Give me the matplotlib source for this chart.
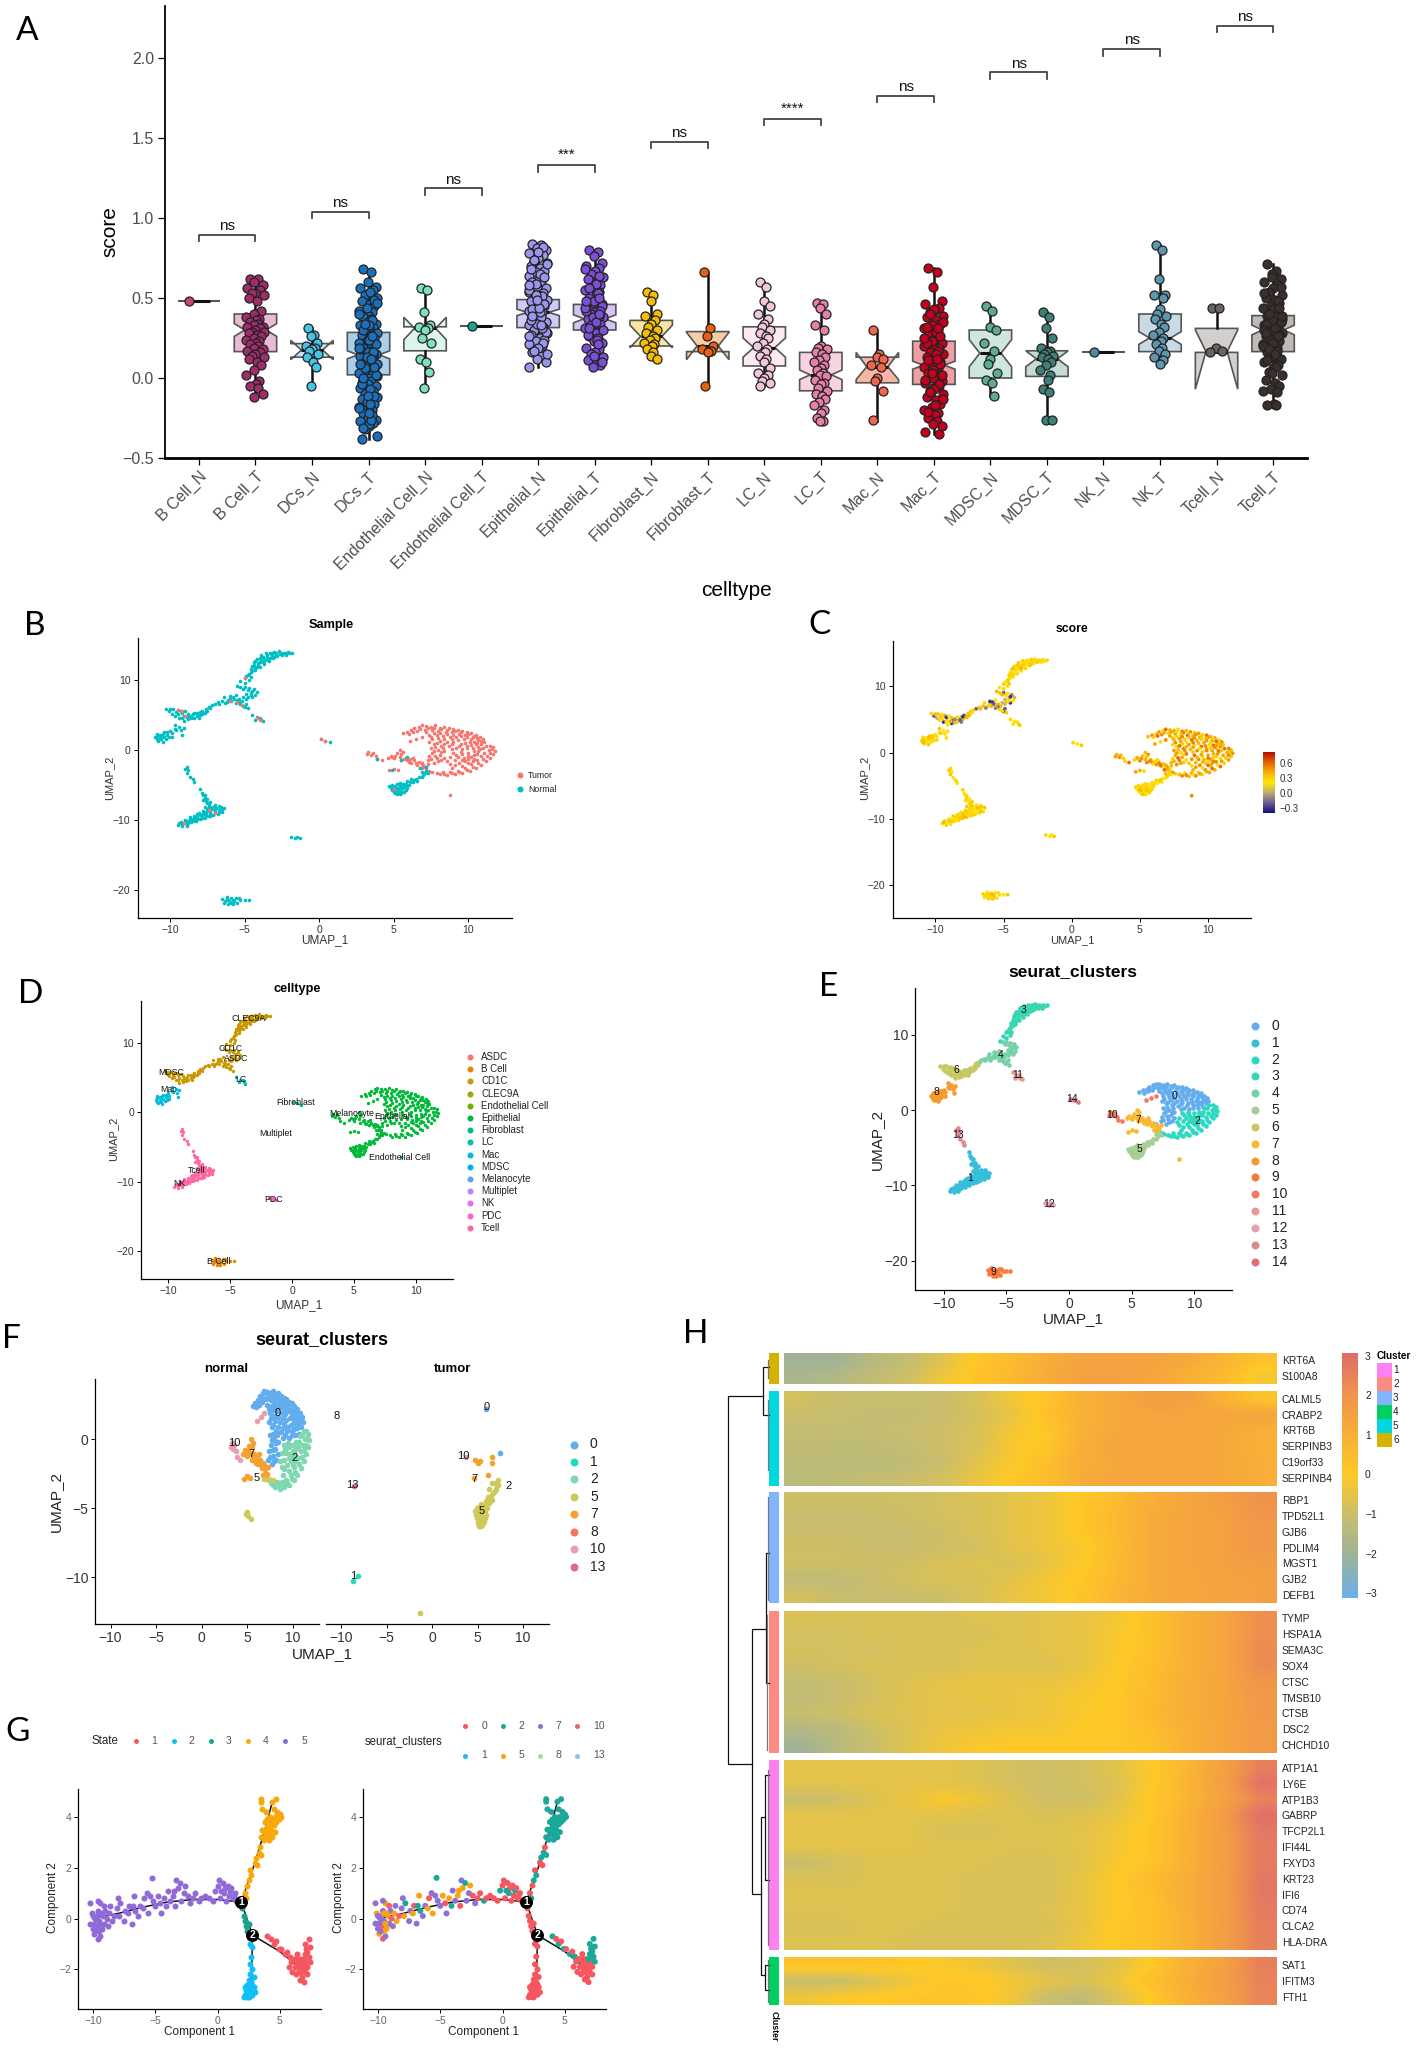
import itertools
import matplotlib
matplotlib.use("Agg")
import matplotlib.pyplot as plt
from matplotlib.colors import LinearSegmentedColormap
from matplotlib.cm import ScalarMappable
from matplotlib.colors import Normalize

plt.rcParams["font.family"] = ["Liberation Sans", "DejaVu Sans"]

W, H = 1417, 2050

# ---------- panel A values ----------
celltypes = ["B Cell_N", "B Cell_T", "DCs_N", "DCs_T", "Endothelial Cell_N", "Endothelial Cell_T",
             "Epithelial_N", "Epithelial_T", "Fibroblast_N", "Fibroblast_T", "LC_N", "LC_T", "Mac_N", "Mac_T",
             "MDSC_N", "MDSC_T", "NK_N", "NK_T", "Tcell_N", "Tcell_T"]
point_colors = ["#C0457A", "#A02C6C", "#45C4EA", "#1B70BE", "#7FE0C0", "#17A594", "#9A96EE", "#7C4FD6",
                "#F5BE00", "#E8610E", "#F2C6DC", "#E87FA8", "#F0664A", "#C4001E", "#5FAA96", "#3E8079",
                "#4F88A2", "#5C96B0", "#6E625C", "#3B2F2B"]
box_colors = ["#E8B5CF", "#E9BBD3", "#BFE9F7", "#A9CFEA", "#DDF6EC", "#BDE8E0", "#CDCBF7", "#D4C4F2",
              "#FBE6A0", "#F9CBA6", "#FCE9F2", "#F9D3E2", "#F9B6A6", "#EE9F9F", "#CFE6DF", "#C6DBD6",
              "#C5D9E5", "#C7DAE6", "#D3CFCD", "#BFBAB7"]
# q1, median, q3, notch low, notch high, whisker low, whisker high
box_q1 = [0.48, 0.165, 0.13, 0.02, 0.17, 0.325, 0.315, 0.30, 0.20, 0.165, 0.075, -0.08, -0.03, -0.04, 0.0, 0.01, 0.165, 0.165, 0.16, 0.165]
box_med = [0.48, 0.30, 0.175, 0.145, 0.31, 0.325, 0.41, 0.37, 0.26, 0.20, 0.19, 0.02, 0.07, 0.08, 0.155, 0.12, 0.165, 0.25, 0.165, 0.30]
box_q3 = [0.48, 0.40, 0.215, 0.285, 0.32, 0.325, 0.49, 0.46, 0.36, 0.29, 0.32, 0.16, 0.13, 0.23, 0.30, 0.17, 0.165, 0.40, 0.31, 0.39]
box_nlo = [0.48, 0.26, 0.115, 0.12, 0.24, 0.325, 0.39, 0.345, 0.19, 0.115, 0.13, -0.01, -0.01, 0.055, 0.07, 0.07, 0.165, 0.21, -0.07, 0.27]
box_nhi = [0.48, 0.34, 0.235, 0.17, 0.38, 0.325, 0.43, 0.395, 0.33, 0.285, 0.25, 0.05, 0.16, 0.105, 0.24, 0.17, 0.165, 0.29, 0.30, 0.33]
box_wlo = [0.48, -0.12, -0.05, -0.38, -0.06, 0.325, 0.07, 0.07, 0.12, -0.05, -0.05, -0.27, -0.27, -0.35, -0.11, -0.26, 0.165, 0.09, 0.16, -0.17]
box_whi = [0.48, 0.62, 0.31, 0.66, 0.56, 0.325, 0.84, 0.80, 0.54, 0.66, 0.60, 0.47, 0.30, 0.69, 0.45, 0.41, 0.165, 0.83, 0.44, 0.71]

b_cell_n = [0.48]
b_cell_t = [.62, .62, .60, .58, .56, .55, .53, .53, .52, .50, .48, .42, .40, .38, .37, .36, .35, .34, .33, .32, .32, .31, .30, .29, .29, .28, .27, .26, .25, .24, .23, .22, .21, .20, .19, .18, .17, .16, .15, .14, .13, .12, .10, .08, .05, .02, -.02, -.04, -.05, -.06, -.12, -.10]
dcs_n = [.31, .27, .26, .22, .20, .19, .18, .17, .15, .13, .10, .07, -.05]
dcs_t = [.68, .66, .60, .57, .56, .55, .53, .52, .50, .48, .46, .45, .43, .42, .41, .39, .38, .37, .35, .34, .33, .32, .31, .29, .28, .27, .26, .25, .23, .22, .21, .20, .19, .17, .16, .15, .14, .13, .12, .10, .09, .08, .07, .05, .04, .03, .02, .0, -.01, -.02, -.04, -.05, -.06, -.08, -.09, -.10, -.12, -.13, -.14, -.16, -.17, -.18, -.20, -.21, -.22, -.24, -.25, -.26, -.27, -.28, -.30, -.32, -.36, -.38,
         .54, .49, .44, .40, .36, .33, .30, .27, .24, .21, .18, .15, .11, .06, .01, -.03, -.07, -.11, -.15, -.19, -.23, -.29, -.31, -.26, -.11, .02, .09, .16, .24, .34, .47, -.04, -.16, .07, .13, .19, .26, -.22, .0, .12]
endo_n = [.56, .55, .41, .33, .32, .31, .30, .25, .22, .12, .10, .04, -.06]
endo_t = [0.325]
epi_n = [.84, .83, .81, .80, .78, .77, .75, .73, .72, .70, .69, .67, .66, .64, .62, .61, .60, .58, .57, .56, .54, .53, .52, .50, .49, .48, .46, .45, .44, .42, .41, .40, .39, .37, .36, .35, .33, .32, .31, .30, .28, .27, .25, .24, .23, .21, .20, .18, .16, .14, .12, .10, .07,
         .82, .79, .74, .71, .68, .65, .63, .59, .55, .51, .47, .43, .38, .34, .29, .26, .22, .19, .17, .15, .36, .41, .46, .52, .58, .31, .44, .39, .33, .49]
epi_t = [.80, .79, .76, .72, .70, .69, .67, .65, .63, .62, .60, .58, .57, .55, .54, .52, .50, .49, .47, .46, .44, .43, .41, .40, .38, .37, .35, .34, .32, .31, .29, .28, .26, .25, .23, .22, .19, .18, .16, .15, .13, .11, .09, .08, .07,
         .68, .64, .59, .56, .53, .48, .45, .42, .39, .36, .33, .30, .27, .24, .42, .38, .44, .50, .35, .31, .21, .14, .10, .48, .40]
fib_n = [.54, .52, .48, .40, .39, .36, .34, .32, .30, .28, .26, .25, .24, .22, .21, .20, .18, .16, .14, .12]
fib_t = [.66, .31, .26, .20, .18, .17, .16, -.05]
lc_n = [.60, .57, .48, .45, .40, .37, .34, .32, .30, .28, .26, .25, .22, .20, .18, .16, .14, .12, .10, .06, .03, .02, .0, -.02, -.03, -.05]
lc_t = [.47, .46, .44, .40, .33, .30, .20, .19, .18, .16, .15, .13, .11, .10, .08, .06, .05, .03, .02, .01, -.01, -.03, -.04, -.06, -.08, -.10, -.11, -.13, -.15, -.17, -.20, -.22, -.25, -.27, -.27]
mac_n = [.30, .15, .13, .12, .08, .07, .0, -.02, -.08, -.26]
mac_t = [.69, .66, .57, .48, .46, .44, .42, .41, .39, .38, .36, .34, .33, .31, .30, .28, .27, .25, .24, .22, .21, .19, .18, .16, .15, .13, .12, .10, .09, .07, .06, .04, .03, .01, .0, -.02, -.03, -.05, -.06, -.08, -.10, -.12, -.14, -.16, -.18, -.20, -.22, -.23, -.25, -.27, -.29, -.30, -.34, -.35,
         .43, .40, .35, .32, .29, .26, .23, .20, .17, .14, .11, .08, .05, .02, -.01, -.04, -.07, -.09, -.13, .22, .15, .09, .03, .25, .31, -.17, -.21, .12]
mdsc_n = [.45, .42, .32, .30, .22, .17, .12, .09, .03, -.01, -.03, -.11]
mdsc_t = [.41, .38, .31, .25, .19, .17, .16, .15, .14, .13, .12, .10, .08, .05, .02, -.01, -.07, -.09, -.26, -.26]
nk_n = [0.165]
nk_t = [.83, .80, .62, .52, .52, .50, .43, .40, .39, .37, .34, .32, .29, .27, .25, .23, .21, .19, .17, .15, .13, .11, .09]
tcell_n = [.44, .44, .19, .17, .16]
tcell_t = [.71, .67, .65, .62, .60, .58, .56, .54, .52, .50, .49, .47, .45, .44, .42, .41, .39, .38, .36, .35, .33, .32, .30, .29, .28, .26, .25, .23, .22, .21, .19, .18, .16, .15, .13, .12, .10, .08, .06, .04, .02, -.01, -.03, -.05, -.07, -.08, -.09, -.16, -.17, -.17,
           .63, .57, .53, .48, .43, .40, .37, .34, .31, .27, .24, .20, .17, .14, .11, .07, .03, .35, .30, .26, .22, .18, .39, .28, .15, .44]
a_points = [b_cell_n, b_cell_t, dcs_n, dcs_t, endo_n, endo_t, epi_n, epi_t, fib_n, fib_t, lc_n, lc_t,
            mac_n, mac_t, mdsc_n, mdsc_t, nk_n, nk_t, tcell_n, tcell_t]
bracket_tops = [0.894, 1.04, 1.185, 1.33, 1.475, 1.62, 1.765, 1.91, 2.055, 2.2]
bracket_text = ["ns", "ns", "ns", "***", "ns", "****", "ns", "ns", "ns", "ns"]
jitter = [-0.6, 0.3, -0.1, 0.8, -0.9, 0.5, 0.0, -0.4, 0.9, -0.7, 0.2, 0.6, -0.2, -1.0, 0.4, 0.1]

# ---------- UMAP clusters, same cells in panels B to F ----------
cluster_0 = [(5.6,2.4),(5.9,2.6),(6.2,2.8),(6.4,3.1),(6.7,3.3),(6.9,3.5),(7.2,3.4),(7.5,3.3),(7.8,3.5),(8.1,3.2),(8.4,3.3),(8.7,3.1),(9.0,3.0),(9.3,2.9),(9.6,2.7),(9.9,2.6),(10.2,2.4),(10.5,2.2),(10.8,1.9),(11.0,1.6),(11.1,1.2),
             (6.6,2.7),(7.1,2.9),(7.6,2.8),(8.0,2.7),(8.5,2.6),(8.9,2.5),(9.4,2.3),(9.8,2.1),(10.3,1.8),(10.7,1.4),(10.9,0.9),
             (7.4,2.2),(7.9,2.1),(8.3,2.0),(8.8,1.9),(9.2,1.8),(9.7,1.5),(10.1,1.2),(10.5,0.8),(10.7,0.4),
             (7.6,1.5),(8.1,1.3),(8.6,1.2),(9.0,1.1),(9.5,0.9),(9.9,0.6),(10.3,0.3),(7.7,0.9),(8.2,0.6),(8.7,0.5),(9.2,0.3),(9.6,0.1),
             (7.5,0.3),(8.0,0.0),(8.4,-0.2),(7.6,-0.4),(8.1,-0.7),(7.4,-0.9),(7.9,-1.2),(7.3,-1.5),(7.7,-1.8),(8.2,-1.5),(6.9,-1.9),
             (6.0,2.3),(6.3,2.5),(6.8,3.0),(7.3,3.1),(7.7,3.1),(8.2,3.0),(8.6,2.9),(9.1,2.7),(9.5,2.5),(10.0,2.3),(10.4,2.0),(10.6,1.7),(10.9,1.3),(7.2,2.5),(7.7,2.4),(8.1,2.4),(8.6,2.3),(9.0,2.2),(9.5,2.0),(9.9,1.8),(10.2,1.5),(10.4,1.1),
             (7.5,1.9),(8.0,1.7),(8.4,1.6),(8.9,1.5),(9.3,1.4),(9.8,1.0),(10.2,0.7),(10.6,1.0),(7.4,1.2),(7.9,1.0),(8.4,0.9),(8.9,0.8),(9.4,0.6),(9.9,0.3),(7.8,0.4),(8.3,0.3),(8.9,0.1),(7.7,-0.1),(8.2,-0.3),(7.8,-0.8),(7.5,-1.3),(8.0,-1.6),(8.4,-1.1)]
cluster_1 = [(-8.0,-5.6),(-7.9,-6.1),(-7.7,-6.5),(-7.5,-7),(-7.3,-7.4),(-7.8,-7.2),(-7.5,-7.6),(-6.4,-8.3),(-6.5,-8.9),(-6.7,-8),(-7,-7.9),(-7.3,-8.1),(-7.5,-8.4),(-7.8,-8.7),(-8.1,-9),(-8.4,-9.4),(-8.7,-9.6),(-9,-10),(-9.3,-10.3),(-9.5,-10.7),(-9.2,-10.9),(-8.9,-10.6),(-8.6,-10.3),(-8.3,-10.2),(-8,-9.9),(-7.7,-9.7),(-7.4,-9.5),(-7.1,-9.3),(-6.8,-9.1),(-7,-8.6),(-7.3,-8.9),(-7.6,-9.1),(-7.9,-9.4),(-8.2,-9.6),(-8.5,-9.9),(-8.8,-10.1),(-6.7,-8.5),(-7.1,-8.2),(-7.5,-8.7),(-9.1,-10.4),(-8.4,-9.9),(-7.8,-9.2),
             (-6.6,-8.2),(-6.9,-8.3),(-7.2,-8.5),(-7.4,-8.2),(-6.5,-8.6),(-6.7,-8.9),(-7,-9),(-7.3,-9.2),(-7.6,-8.8),(-7.8,-9),(-8,-9.3),(-8.2,-9.2),(-8.4,-9.7),(-8.7,-9.9),(-9,-10.3),(-9.2,-10.6),(-8.8,-10.4),(-8.5,-10.1),(-8.2,-9.9),(-7.9,-9.7),(-7.6,-9.4),(-7.3,-9.4),(-7,-8.8),(-7.7,-8.1),(-7.6,-7.3),(-7.7,-6.9),(-7.8,-6.4),(-7.4,-7.8),(-9.4,-10.5),(-8.9,-10.8)]
cluster_2 = [(11.7,0.4),(11.8,-0.1),(11.7,-0.6),(11.5,-1.1),(11.2,-1.6),(10.9,-2.1),(10.5,-2.6),(10.1,-3),(9.6,-3.3),(9.1,-3.5),(8.6,-3.6),(8.1,-3.5),(7.6,-3.2),(7.2,-2.9),(6.9,-2.6),
             (11.2,0.6),(11.4,0),(11.1,-0.4),(10.9,-0.9),(10.6,-1.4),(10.2,-2),(9.8,-2.6),(9.3,-3),(8.8,-3.1),(8.3,-3.1),
             (10.8,0.2),(10.4,-0.2),(10.0,-0.4),(9.6,-0.6),(9.3,-1),(9.1,-1.5),(9.4,-1.9),(9.8,-1.6),(10.2,-1),(10.6,-.6),(9.0,-0.4),(9.7,-1.1),(10.3,-1.6),(8.8,-2.0),
             (11.5,0.6),(11.6,0.1),(11.5,-0.4),(11.3,-0.8),(11.0,-1.3),(10.7,-1.8),(10.3,-2.4),(9.9,-2.9),(9.4,-3.2),(8.9,-3.3),(8.4,-3.4),(7.9,-3.3),(7.4,-3),(11.0,0.3),(10.7,-0.2),(10.4,-0.7),(10.0,-0.9),(9.6,-1.4),(9.5,-.3),(10.0,-1.3),(10.4,-1.3),(9.2,-0.7),(8.8,-1.0),(8.6,-1.6),(9.1,-2.2),(9.6,-2.3),(10.0,-1.9),(8.9,-2.6)]
cluster_3 = [(-1.8,13.9),(-2.1,14.0),(-2.4,13.9),(-2.7,14.1),(-3.0,14.0),(-3.3,13.9),(-3.6,13.8),(-3.9,13.5),(-4.2,13.0),(-4.4,12.5),(-4.5,12.0),(-4.6,11.6),(-4.3,11.4),(-4.0,11.9),(-3.7,12.3),(-3.4,12.7),(-3.1,13.1),(-2.8,13.4),(-2.5,13.6),(-2.2,13.6),(-3.5,13.3),(-3.9,12.9),(-4.1,12.4),(-3.2,13.5),(-2.9,13.7),(-3.7,13.0),(-4.2,11.9),(-4.6,11.1),(-4.8,10.7),(-5.0,10.3),(-5.3,9.8),(-5.0,9.6),(-4.7,10.0),(-4.6,10.4),(-5.5,9.2),
             (-2.0,13.8),(-2.3,13.8),(-2.6,13.8),(-2.9,13.9),(-3.2,13.8),(-3.5,13.6),(-3.8,13.3),(-4.0,13.1),(-4.3,12.7),(-4.4,12.2),(-4.4,11.8),(-4.1,12.1),(-3.8,12.6),(-3.5,12.9),(-3.2,13.3),(-2.9,13.5),(-2.6,13.7),(-3.7,12.7),(-4.0,12.6),(-4.3,11.7),(-3.3,13.1),(-3.0,13.3),(-4.5,11.3),(-4.7,10.9),(-4.9,10.5)]
cluster_4 = [(-7.2,6.4),(-7,6.6),(-6.8,6.8),(-6.5,7),(-6.2,6.9),(-6,7.3),(-5.8,7.6),(-5.6,7.9),(-5.9,7.0),(-5.6,6.7),(-5.3,6.5),(-5,6.2),(-4.8,6),(-5.4,7.3),(-5.1,7.5),(-4.8,7.6),(-4.5,7.5),(-4.3,7.8),(-4.2,8.3),(-4.4,8.7),(-4.7,8.9),(-5,9.0),(-5.3,9.0),(-4.6,8.2),(-4.9,8.0),(-6.4,7.5),(-6.0,7.7),(-7.4,6.1),
             (-6.7,6.6),(-6.3,6.7),(-6.1,7.1),(-5.7,7.3),(-5.5,7.1),(-5.2,7.0),(-4.9,7.3),(-4.6,7.8),(-4.5,8.4),(-4.8,8.6),(-5.1,8.7),(-5.4,6.9),(-5.1,6.3),(-4.9,6.6)]
cluster_5 = [(4.7,-5.2),(4.9,-5.7),(5.1,-6.1),(5.4,-6.3),(5.7,-6.0),(5.9,-5.5),(6.0,-5.0),(5.6,-4.9),(5.2,-4.9),(5.0,-5.4),(5.3,-5.6),(5.6,-5.5),(5.3,-6.0),(5.7,-5.2),(4.8,-5.5),(5.1,-5.2),(5.5,-5.8),(6.1,-4.6),(6.4,-4.3),(6.7,-3.9),(7.0,-3.6),(7.3,-3.3),(6.2,-4.2),(6.6,-4.4),(7.2,-3.0),(6.9,-3.2),(5.9,-4.5),
             (4.9,-5.0),(5.0,-6.0),(5.2,-6.3),(5.5,-6.2),(5.8,-5.7),(5.8,-5.2),(5.4,-5.2),(5.1,-5.7),(5.6,-5.0),(5.4,-4.7),(6.3,-4.6),(6.5,-4.1),(6.9,-3.8),(7.1,-3.3),(5.2,-5.4),(5.5,-5.5),(5.0,-5.6),(5.8,-4.8)]
cluster_6 = [(-10.3,5.9),(-10.1,5.5),(-9.8,5.8),(-9.6,5.4),(-9.3,5.6),(-9.7,4.9),(-9.4,4.6),(-9.1,4.9),(-8.8,5.2),(-8.5,5.1),(-8.2,5.3),(-7.9,5.6),(-7.6,5.9),(-7.4,6.2),(-8.0,5.0),(-8.4,4.6),(-8.8,4.4),(-9.1,4.2),(-7.7,5.3),(-8.1,4.6),(-9.5,5.1),(-8.7,4.8),(-7.5,5.6),
             (-10.0,5.8),(-9.9,5.2),(-9.5,5.7),(-9.2,5.3),(-9.0,5.5),(-8.9,4.7),(-8.6,4.9),(-8.4,5.3),(-8.2,4.9),(-7.9,5.2),(-7.6,5.6),(-8.6,4.5),(-9.2,4.6),(-8.0,5.4),(-7.3,6.0)]
cluster_7 = [(5.4,0),(5.6,-0.3),(5.2,-0.5),(4.8,-0.8),(4.6,-1.1),(5.0,-1.2),(5.4,-1.0),(5.8,-1.1),(6.1,-1.3),(6.4,-1.5),(6.7,-1.7),(6.2,-1.8),(6.6,-2.1),(7.0,-2.2),(7.2,-2.5),(6.8,-2.6),(5.0,-2.7),(4.7,-2.9),(5.3,-2.8),(5.5,-1.5),(7.3,-2.0),
             (5.1,-0.9),(5.5,-0.6),(5.9,-1.5),(6.3,-1.1),(6.5,-1.9),(6.9,-2.0),(7.0,-2.5),(6.0,-1.7),(5.7,-1.3),(4.9,-1.0),(8.8,-6.5)]
cluster_8 = [(-11,1.8),(-10.8,1.3),(-10.5,1.2),(-10.3,1.6),(-10.6,2),(-10.9,2.3),(-10.4,2.5),(-10.2,2.2),(-10,2.7),(-9.7,3),(-9.4,3.3),(-9.7,3.6),(-9.1,3.2),(-9.9,1.9),(-9.2,2.2),(-10.7,1.7),
             (-10.9,1.5),(-10.6,1.5),(-10.4,1.9),(-10.7,2.2),(-10.2,2.5),(-9.9,2.4),(-9.6,2.9),(-9.3,2.8),(-10.9,2.0),(-10.5,2.3),(-10.1,1.8)]
cluster_9 = [(-6.5,-21.3),(-6.2,-21.0),(-5.9,-21.2),(-5.6,-21.1),(-6.3,-21.6),(-6.0,-21.7),(-5.7,-21.6),(-5.8,-22),(-5.5,-21.9),(-5.3,-21.4),(-5,-21.4),(-4.7,-21.4),(-5.4,-21.1),(-6.1,-22),(-6.4,-21.8),(-6.1,-21.4),(-5.8,-21.4),(-5.9,-21.9),(-6.2,-21.3)]
cluster_10 = [(3.3,-0.3),(3.5,-0.7),(3.8,-0.9),(3.2,-0.6),(3.9,-1.3),(4.2,-1.5),(3.6,-0.4),(6.1,1.3),(6.5,1.6),(6.9,1.9)]
cluster_11 = [(-4.5,5),(-4.2,4.7),(-3.9,4.3),(-4,4.6),(-3.8,4.1),(-4.3,4.3)]
cluster_12 = [(-1.9,-12.4),(-1.6,-12.6),(-1.3,-12.6),(-1.5,-12.4)]
cluster_13 = [(-8.9,-2.4),(-8.8,-2.9),(-8.9,-3.3),(-8.7,-3.8),(-8.5,-4.2),(-8.4,-4.6),(-9.0,-2.7)]
cluster_14 = [(0.1,1.5),(0.4,1.3),(0.7,1.1)]
clusters = [cluster_0, cluster_1, cluster_2, cluster_3, cluster_4, cluster_5, cluster_6, cluster_7,
            cluster_8, cluster_9, cluster_10, cluster_11, cluster_12, cluster_13, cluster_14]
tumor_extra = [(-9.5,5.7),(-9.2,5.6),(-9,4.8),(-6,7),(-5.5,6.8),(-5.2,6.4),(-9.1,-10.5),(-7.4,-8.6),(-7,-9),(5,-5.6),(-5,10.3),(-4.2,4.6),(-4,4.3),(0.1,1.5),(0.4,1.3)]
normal_extra = [(5.5,-1.5),(5.9,-1.0),(4.9,-2.8),(6.8,-2.6),(7.2,-2.5),(3.9,-1.3)]

sample_of_cluster = ["Tumor", "Normal", "Tumor", "Normal", "Normal", "Normal", "Normal", "Tumor", "Normal",
                     "Normal", "Tumor", "Normal", "Normal", "Normal", "Normal"]
sample_labels = ["Tumor", "Normal"]
sample_colors = ["#F8766D", "#00BFC4"]

celltype_labels = ["ASDC", "B Cell", "CD1C", "CLEC9A", "Endothelial Cell", "Epithelial", "Fibroblast", "LC", "Mac",
                   "MDSC", "Melanocyte", "Multiplet", "NK", "PDC", "Tcell"]
celltype_colors = ["#F8766D", "#E58700", "#C99800", "#A3A500", "#6BB100", "#00BA38", "#00BF7D", "#00C0AF", "#00BCD8",
                   "#00B0F6", "#619CFF", "#B983FF", "#E76BF3", "#FD61D1", "#FF67A4"]
celltype_of_cluster = ["Epithelial", "Tcell", "Epithelial", "CD1C", "CD1C", "Epithelial", "CD1C", "Epithelial", "Mac",
                       "B Cell", "Epithelial", "LC", "PDC", "Tcell", "Fibroblast"]
celltype_text = {"CLEC9A": (-3.5, 13.5), "CD1C": (-5, 9.1), "ASDC": (-4.5, 7.7), "MDSC": (-9.8, 5.7), "Mac": (-10, 3.2),
                 "LC": (-4.1, 4.7), "Fibroblast": (0.3, 1.4), "Melanocyte": (4.8, -0.2), "Epithelial": (8.1, -0.65),
                 "Endothelial Cell": (8.7, -6.5), "Multiplet": (-1.3, -3.1), "Tcell": (-7.7, -8.4), "NK": (-9.1, -10.2),
                 "PDC": (-1.5, -12.6), "B Cell": (-5.9, -21.5)}

cluster_names = [str(i) for i in range(15)]
cluster_colors = ["#62ADEE", "#37BEDA", "#2BD9C0", "#3AD6B2", "#74D3A6", "#A6CF96", "#C9C763", "#F9B92E", "#F79A2E",
                  "#F9783A", "#F3785E", "#E89A98", "#E2A2AC", "#DE8890", "#DE6E78"]
cluster_text = {"0": (8.4, 1.9), "1": (-7.9, -9), "2": (10.2, -1.5), "3": (-3.6, 13.3), "4": (-5.5, 7.3), "5": (5.6, -5.2),
                "6": (-9, 5.3), "7": (5.5, -1.3), "8": (-10.6, 2.4), "9": (-6, -21.5), "10": (3.4, -0.6), "11": (-4.1, 4.6),
                "12": (-1.6, -12.5), "13": (-8.9, -3.3), "14": (0.25, 1.4)}

# score per cell, cycled inside each cluster
score_epi = [0.38, 0.5, 0.32, 0.46, 0.28, 0.58, 0.4, 0.44, 0.26, 0.52]
score_low = [0.28, 0.22, 0.33, 0.2, 0.3, 0.25, 0.32, 0.38, 0.18]
score_mix = [0.26, -0.2, 0.32, 0.36, 0.05, 0.28, -0.3, 0.2, 0.4, -0.1]
score_of_cluster = [score_epi, score_low, score_epi, score_low, score_mix, score_low, score_mix, score_epi, score_low,
                    score_low, score_epi, score_low, score_low, score_low, score_low]

# ---------- panel F ----------
f_names = ["0", "1", "2", "5", "7", "8", "10", "13"]
f_colors = ["#62ADEE", "#22DCC0", "#7FD8B0", "#CFC85A", "#F5A030", "#F0766A", "#E4A0B0", "#D87080"]
f_normal = {"0": cluster_0, "2": cluster_2, "7": cluster_7[:-1], "10": cluster_10,
            "5": [(4.9,-5.4),(5.1,-5.6),(5.4,-5.8),(5.0,-5.3),(7.4,-2.9),(7.8,-3.0),(6.9,-2.9)]}
f_tumor = {"0": [(5.95,2.2),(7.5,-1.0)], "1": [(-8.7,-10.3),(-8.1,-9.9)], "13": [(-8.6,-3.4)], "10": [(3.7,-1.3)],
           "7": [(4.7,-1.5),(5,-1.7),(5.3,-1.6),(6.6,-1.3),(6.6,-1.7),(6.1,-2.6),(4.6,-2.8)],
           "5": cluster_5 + [(-1.3,-12.6),(6.6,-3.2),(6.3,-3.6)]}
f_normal_text = {"0": (8.4, 1.9), "2": (10.2, -1.4), "7": (5.5, -1.1), "10": (3.6, -0.3), "5": (6, -2.8)}
f_tumor_text = {"8": (-10.5, 1.7), "0": (5.95, 2.3), "10": (3.4, -1.2), "7": (4.7, -2.9), "2": (8.4, -3.4),
                "5": (5.5, -5.2), "13": (-8.8, -3.3), "1": (-8.7, -9.9)}

# ---------- panel G ----------
state_colors = ["#F8565E", "#10BFF5", "#14A58F", "#F9A80A", "#8F6AD8"]
g_cluster_colors = {"0": "#F8565E", "2": "#1AA898", "7": "#8F6FD8", "10": "#F06070",
                    "1": "#22BBEE", "5": "#F5A50E", "8": "#90E8A0", "13": "#90C0F0"}
g5_far = [(-10.2,.6),(-10.1,.2),(-10.2,-.2),(-10,-.4),(-9.9,-.6),(-9.6,-.8),(-9.4,-.7),(-9.3,-.4),(-9.8,0),(-9.6,.3),(-9.4,.6),(-9.7,-.3),(-9.5,-.1),(-9.2,.1),(-9,.3),(-9.1,-.2),(-9.3,.2),(-8.9,0),(-8.8,-.3),(-8.7,.2),(-8.6,.5),(-9.6,.7),(-8.5,-.1),(-8.3,.1),(-9.9,-.2),(-9.5,-.5),(-10,.1),(-9.7,.1),(-9.4,-.2),(-9.1,.5),(-9.8,-.5),(-9.5,.2)]
g5_mid = [(-8.1,.4),(-7.9,0.1),(-7.8,.6),(-7.5,-.1),(-7.4,.3),(-7.2,.2),(-7.1,.5),(-6.9,-.2),(-6.7,.9),(-6.6,.3),(-6.4,.1),(-6.2,.5),(-6,.4),(-5.9,.8),(-5.7,1),(-5.6,.2),(-5.3,1.6),(-5.2,.7),(-5,.5),(-4.8,.9),(-4.6,.6),(-4.5,.2),(-4.3,.8),(-4.1,.5),(-4,1.1),(-3.8,.7),(-3.6,.9),(-3.4,.5),(-3.3,1.5),(-3.2,1.2),(-3,1.4),(-2.9,.7),(-2.7,1),(-2.6,1.3),(-2.4,.9),(-2.2,.6),(-3.5,1.1),(-6.8,.5),(-5.4,.9),(-8,.8)]
g5_near = [(-2,.8),(-1.8,1),(-1.5,.7),(-1.3,.8),(-1,.9),(-.7,.8),(-.4,.7),(-.2,1.1),(0,1.3),(.1,1.5),(.2,.8),(.4,1.4),(.5,1),(.6,1.2),(.7,.7),(.8,1.3),(.9,.9),(1,1.1),(1.1,1.2),(1.2,.8),(1.3,.9),(1.4,1),(.3,1.1),(1.5,.7)]
g4_low = [(2.2,1),(2.3,.8),(2.4,1.3),(2.5,1.5),(2.6,1.9),(2.7,1.7),(3,2.2),(3.1,2.4),(3.2,2.1),(3.3,2.6),(3.4,2.8),(3.5,2.5)]
g4_high = [(3.5,3.2),(3.6,3.5),(3.7,3.1),(3.8,3.8),(3.9,3.3),(3.9,4.2),(4,3.6),(4.1,3.1),(4.2,4),(4.3,3.5),(4.4,4.6),(4.4,3.9),(4.5,4.3),(4.6,3.4),(4.7,4.7),(4.7,3.8),(4.8,4.2),(4.9,3.9),(5,4.1),(5.1,4),(3.5,4.7),(3.6,4.3),(3.5,4.6),(4.2,3.3),(4.5,3.7),(4.0,3.9),(4.3,3.8),(4.1,3.5),(3.8,3.4),(4.4,3.2),(4.6,4.0),(4.2,3.7)]
g3_all = [(2,.4),(2.1,.1),(2.2,-.1),(2.3,-.3),(2.4,-.5),(2.5,-.2)]
g2_all = [(2.6,-1),(2.8,-1.1),(2.7,-1.5),(2.6,-1.8),(2.8,-2),(2.6,-2.2),(2.5,-2.4),(2.4,-2.6),(2.3,-2.8),(2.2,-3),(2.1,-3.1),(2.5,-3.1),(2.8,-3),(2.9,-2.7),(3,-2.9),(2.7,-2.5),(2.9,-2.3),(2.4,-2.9),(2.7,-2.8),(2.5,-2.7),(2.2,-2.7),(2.6,-2.9),(2.4,-3.1),(2.8,-2.6),(2.6,-2.5)]
g1_near = [(4,-.7),(4.3,-.8),(4.5,-1),(4.7,-.9),(4.9,-1.2),(5.1,-1.2),(5.4,-1.4),(5.6,-1.3),(5.8,-1.5)]
g1_far = [(5.9,-1.7),(6.1,-1.6),(6.2,-1.9),(6.4,-1.8),(6.5,-2.1),(6.3,-2.2),(6.6,-2.4),(6.7,-2),(6.8,-2.3),(6.9,-1.9),(7,-2.1),(7.1,-1.7),(7.2,-1.9),(6.9,-2.5),(6.6,-1.6),(6.4,-1.4),(5.7,-1.9),(6,-2.1),(6.7,-1.8),(6.5,-1.7),(6.8,-2.0),(7.0,-1.8),(6.3,-1.9),(6.6,-2.1),(6.2,-1.6),(7.2,-2.2),(6.8,-1.6)]
g1_tip = [(7.3,-.8),(7.4,-1.1),(7.1,-1.2),(7,-1.4),(7.3,-1.5),(7.2,-1.3),(6.9,-1.6),(7.4,-1.7),(7,-1)]
# (points, state index, clusters cycled over the points in the right plot)
g_groups = [(g5_far, 4, ["7", "5", "7", "7", "5", "10"]), (g5_mid, 4, ["7", "5", "2", "7", "7", "5", "0"]),
            (g5_near, 4, ["0", "0", "2", "0", "0"]), (g4_low, 3, ["0", "2"]), (g4_high, 3, ["2"]),
            (g3_all, 2, ["0"]), (g2_all, 1, ["0"]), (g1_near, 0, ["2", "0"]), (g1_far, 0, ["0"]), (g1_tip, 0, ["2"])]
traj_main = [(-10,0),(-8,.2),(-6,.45),(-4,.65),(-2,.75),(0,.75),(1.9,.65),(2.8,-.65)]
traj_up = [(1.9,.65),(3,2.2),(3.8,3.5),(4.4,4.6)]
traj_down = [(2.8,-.65),(2.7,-3)]
traj_right = [(2.8,-.65),(5,-1.3),(6.8,-2)]
traj_nodes = [(1.9, 0.65, "1"), (2.8, -0.65, "2")]

# ---------- panel H, rows of scaled expression read along pseudotime ----------
heat_groups = [
    ("#D4B400", ["KRT6A", "S100A8"],
     [[-1.9,-1.9,-1.4,-1.1,-.6,.1,.5,1.0,1.4,1.5,1.4,1.2,.7,.3],
      [-1.7,-1.5,-1.2,-.9,-.3,.2,.6,1.1,1.5,1.5,1.3,.9,.5,-.2]]),
    ("#00D8E0", ["CALML5", "CRABP2", "KRT6B", "SERPINB3", "C19orf33", "SERPINB4"],
     [[-.8,-1,-1,-1,-1,-.7,-.2,.2,.9,1.2,1.6,1.5,.8,.2],
      [-1,-1,-1.1,-1.1,-1,-.8,-.4,.3,.9,1.2,1.3,1.3,1.3,1.3],
      [-1.1,-1.1,-1.1,-1,-.9,-.7,-.2,.1,.9,1.2,1.3,1.3,1.2,1.0],
      [-1.2,-1.2,-1.2,-1.1,-.9,-.7,-.1,.1,1,1.3,1.3,1.3,1.2,.9],
      [-1.2,-1.3,-1.3,-1.2,-1,-.5,-.1,.4,1,1.2,1.3,1.3,1.2,1],
      [-1.3,-1.2,-1.1,-1,-.8,-.4,.1,.4,1.1,1.3,1.3,1.3,1.2,1]]),
    ("#80B4FF", ["RBP1", "TPD52L1", "GJB6", "PDLIM4", "MGST1", "GJB2", "DEFB1"],
     [[-.9,-.9,-.9,-.9,-.8,-.7,-.5,-.3,.1,.5,1,1.3,1.6,2],
      [-1,-1,-1,-.9,-.8,-.7,-.5,-.3,.1,.6,1.1,1.3,1.5,1.9],
      [-1,-1,-1,-1,-.9,-.7,-.5,-.3,.1,.6,1.1,1.3,1.5,1.8],
      [-.9,-.9,-1,-1,-.9,-.8,-.5,-.3,-.1,.5,1.1,1.3,1.5,1.8],
      [-.9,-.9,-.9,-.9,-.7,-.6,-.7,-.4,0,.6,1.1,1.3,1.5,1.6],
      [-1.2,-1.2,-1,-.8,-.7,-.7,-.5,-.2,.1,.6,1.1,1.3,1.4,1.5],
      [-.8,-1,-1,-1,-.9,-.7,-.4,-.2,.2,.7,1.1,1.3,1.4,1.5]]),
    ("#FF8A80", ["TYMP", "HSPA1A", "SEMA3C", "SOX4", "CTSC", "TMSB10", "CTSB", "DSC2", "CHCHD10"],
     [[-.7,-.7,-.7,-.7,-.7,-.6,-.6,-.5,-.4,-.2,.3,.9,1.3,2.1],
      [-.8,-.8,-.7,-.7,-.7,-.7,-.6,-.5,-.4,-.1,.3,.9,1.3,2.1],
      [-.8,-.8,-.8,-.7,-.7,-.6,-.6,-.5,-.4,-.1,.3,.9,1.3,2.2],
      [-.9,-.8,-.7,-.7,-.7,-.6,-.6,-.6,-.4,0,.4,.9,1.3,2.2],
      [-1.1,-1,-.8,-.6,-.5,-.4,-.4,-.4,-.2,0,.5,1,1.3,1.9],
      [-1.2,-1,-.8,-.6,-.5,-.4,-.4,-.3,-.1,.1,.5,1,1.3,1.8],
      [-1,-.9,-.7,-.6,-.5,-.5,-.4,-.3,-.1,.1,.6,1,1.3,1.8],
      [-1.5,-1.3,-.9,-.6,-.4,-.3,-.2,-.2,0,.1,.4,.9,1.3,1.7],
      [-1.9,-1.4,-1,-.6,-.3,-.1,0,0,0,.1,.3,.9,1.3,1.7]]),
    ("#FF80F0", ["ATP1A1", "LY6E", "ATP1B3", "GABRP", "TFCP2L1", "IFI44L", "FXYD3", "KRT23", "IFI6", "CD74", "CLCA2", "HLA-DRA"],
     [[-.5,-.5,-.5,-.5,-.5,-.6,-.8,-.9,-.8,-.5,0,.7,1.5,2.5],
      [-.5,-.5,-.5,-.5,-.5,-.6,-.8,-.9,-.8,-.6,0,.8,1.6,2.8],
      [-1,-.9,-.6,-.4,-.1,-.3,-.6,-.9,-.9,-.5,.1,.7,1.4,2.4],
      [-.5,-.5,-.5,-.5,-.5,-.6,-.6,-.7,-.6,-.4,.1,.9,1.7,2.9],
      [-.5,-.5,-.5,-.5,-.7,-.7,-.6,-.6,-.5,-.2,.2,.9,1.6,2.7],
      [-.5,-.5,-.5,-.5,-.6,-.6,-.6,-.6,-.5,-.2,.2,.9,1.6,2.6],
      [-1,-.8,-.6,-.6,-.6,-.6,-.7,-.7,-.5,-.1,.2,.9,1.6,2.6],
      [-.7,-.7,-.6,-.6,-.6,-.7,-.7,-.7,-.4,0,.5,1,1.6,2.7],
      [-.6,-.6,-.6,-.6,-.6,-.7,-.7,-.7,-.4,0,.4,1,1.6,2.7],
      [-.6,-.6,-.6,-.6,-.6,-.7,-.7,-.6,-.4,0,.3,1,1.6,2.6],
      [-.7,-.7,-.6,-.6,-.7,-.7,-.7,-.7,-.4,.1,.3,.9,1.6,2.5],
      [-.6,-.6,-.6,-.7,-.7,-.7,-.7,-.6,-.3,.1,.3,.9,1.6,2.5]]),
    ("#00D060", ["SAT1", "IFITM3", "FTH1"],
     [[.2,.2,.2,.1,-.1,-.3,-.6,-.9,-.8,-.5,.1,.9,1.5,2.5],
      [-1,-1,-.7,-.3,.1,.1,-.2,-.5,-.7,-.3,.4,1,1.6,2.4],
      [-.3,-.1,0,.1,.2,.1,-.3,-1,-1.2,-.6,.1,.9,1.5,2.4]]),
]
heat_cmap = LinearSegmentedColormap.from_list("heat", ["#6CB0E8", "#9DB39A", "#C9BE6D", "#FFC927", "#F8AE38", "#F0944C", "#E06C6C"])
# node position, y top, y bottom, end of top child, end of bottom child (pixels of the figure)
dendro_links = [(728, 1396, 1764, 763, 752), (763, 1367, 1415, 769, 769), (752, 1629, 1894, 766, 761),
                (766, 1553, 1683, 769, 769), (761, 1817, 1975, 765, 765), (765, 1775, 1880, 769, 769),
                (765, 1965, 1990, 769, 769)]
dendro_fine = [(768, 1360, 1378), (768, 1400, 1470), (768, 1497, 1600), (767, 1615, 1750), (768, 1770, 1945), (768, 1960, 2002)]


def ax_px(l, t, r, b, **kw):
    return fig.add_axes([l / W, 1 - b / H, (r - l) / W, (b - t) / H], **kw)


def xy(points):
    return [p[0] for p in points], [p[1] for p in points]


def dot(d):
    return (d * 0.72) ** 2


def style_axes(ax, xticks, yticks, size, color="#333333"):
    for s in ["top", "right"]:
        ax.spines[s].set_visible(False)
    for s in ["left", "bottom"]:
        ax.spines[s].set_linewidth(0.9)
    ax.set_xticks(xticks)
    ax.set_yticks(yticks)
    ax.tick_params(labelsize=size, labelcolor=color, length=3, width=0.7, pad=2)


fig = plt.figure(figsize=(W / 100, H / 100), dpi=100)
over = fig.add_axes([0, 0, 1, 1], zorder=5)
over.set_xlim(0, W)
over.set_ylim(H, 0)
over.axis("off")


def text_px(x, y, s, size=8, ha="center", **kw):
    over.text(x, y, s, fontsize=size, ha=ha, va="center", **kw)


def legend_px(names, colors, x, y0, dy, size, d, tx):
    for i, (n, c) in enumerate(zip(names, colors)):
        over.scatter([x], [y0 + i * dy], s=dot(d), color=c, linewidths=0)
        text_px(tx, y0 + i * dy, n, size=size, ha="left", color="#222222")


for letter, lx, ly in [("A", 27, 31), ("B", 35, 626), ("C", 820, 625), ("D", 31, 994), ("E", 829, 987),
                       ("F", 11, 1339), ("G", 18, 1732), ("H", 696, 1334)]:
    text_px(lx, ly, letter, size=24, family="Lato")

# ---------- A ----------
ax = ax_px(165, 6, 1307, 458)
stats = [dict(label=c, q1=a, med=m, q3=q, cilo=nl, cihi=nh, whislo=wl, whishi=wh, fliers=[])
         for c, a, m, q, nl, nh, wl, wh in zip(celltypes, box_q1, box_med, box_q3, box_nlo, box_nhi, box_wlo, box_whi)]
pos = list(range(len(celltypes)))
bp = ax.bxp(stats, positions=pos, widths=0.75, patch_artist=True, shownotches=True, showfliers=False, showcaps=False,
            boxprops=dict(edgecolor="#555555", linewidth=1.2), medianprops=dict(color="#111111", linewidth=2.2),
            whiskerprops=dict(color="#111111", linewidth=1.8))
for patch, c in zip(bp["boxes"], box_colors):
    patch.set_facecolor(c)
for i, (vals, c) in enumerate(zip(a_points, point_colors)):
    spread = 0.17 if len(vals) > 40 else 0.12
    xs = [i + j * spread for j, _ in zip(itertools.cycle(jitter), vals)]
    if len(vals) == 1:
        xs = [i - 0.17]
    ax.scatter(xs, vals, s=dot(9), color=c, edgecolors="#222222", linewidths=0.9, zorder=4)
for k, (top, label) in enumerate(zip(bracket_tops, bracket_text)):
    ax.plot([2 * k, 2 * k, 2 * k + 1, 2 * k + 1], [top - 0.04, top, top, top - 0.04], color="#444444", lw=1.3)
    off = 0.055 if label == "ns" else 0.065
    ax.text(2 * k + 0.5, top + off, label, ha="center", va="center", fontsize=11, color="#111111")
ax.set_xlim(-0.6, 19.6)
ax.set_ylim(-0.5, 2.325)
ax.set_yticks([-0.5, 0, 0.5, 1, 1.5, 2])
ax.set_yticklabels(["\u22120.5", "0.0", "0.5", "1.0", "1.5", "2.0"])
ax.set_xticks(pos)
ax.set_xticklabels(celltypes, rotation=45, ha="right", rotation_mode="anchor")
ax.tick_params(labelsize=11.5, labelcolor="#4d4d4d", length=5, width=0.9, pad=3)
for s in ["top", "right"]:
    ax.spines[s].set_visible(False)
ax.spines["left"].set_linewidth(1.3)
ax.spines["bottom"].set_linewidth(2)
text_px(110, 232, "score", size=15, rotation=90)
text_px(736, 591, "celltype", size=15)


def umap_ax(l, t, r, b, xlim, ylim, size, yticks=(-20, -10, 0, 10)):
    a = ax_px(l, t, r, b)
    style_axes(a, [-10, -5, 0, 5, 10], list(yticks), size)
    a.set_xlim(*xlim)
    a.set_ylim(*ylim)
    return a


# ---------- B ----------
ax = umap_ax(137.5, 638, 512, 918, (-12.2, 12.95), (-24, 16), 7.5)
for pts, smp in zip(clusters, sample_of_cluster):
    ax.scatter(*xy(pts), s=dot(3.6), color=sample_colors[sample_labels.index(smp)], linewidths=0)
ax.scatter(*xy(tumor_extra), s=dot(3.6), color=sample_colors[0], linewidths=0)
ax.scatter(*xy(normal_extra), s=dot(3.6), color=sample_colors[1], linewidths=0)
text_px(331, 625, "Sample", size=9.2, fontweight="bold")
text_px(324.5, 940, "UMAP_1", size=8.5, color="#333333")
text_px(109, 778, "UMAP_2", size=8, rotation=90, color="#333333")
legend_px(sample_labels, sample_colors, 520, 775, 14, 6.3, 6, 528)

# ---------- C ----------
score_cmap = LinearSegmentedColormap.from_list("score", ["#16107E", "#6E6090", "#BFAE70", "#FFE800", "#F7B000", "#E86000", "#B01000"])
score_norm = Normalize(-0.39, 0.82)
ax = umap_ax(892.5, 641, 1251, 918, (-13.15, 13.15), (-24.9, 16.8), 7.5)
for pts, sc in zip(clusters, score_of_cluster):
    vals = [v for v, _ in zip(itertools.cycle(sc), pts)]
    ax.scatter(*xy(pts), s=dot(3.8), c=vals, cmap=score_cmap, norm=score_norm, linewidths=0)
text_px(1072, 628.6, "score", size=8.8, fontweight="bold")
text_px(1072, 940, "UMAP_1", size=8, color="#333333")
text_px(864.6, 778, "UMAP_2", size=8, rotation=90, color="#333333")
cax = ax_px(1263, 752, 1275, 812.5)
cb = fig.colorbar(ScalarMappable(norm=score_norm, cmap=score_cmap), cax=cax)
cb.set_ticks([-0.3, 0, 0.3, 0.6])
cb.set_ticklabels(["\u22120.3", "0.0", "0.3", "0.6"])
cb.outline.set_visible(False)
cb.ax.tick_params(labelsize=7, length=0, pad=3, labelcolor="#333333")

# ---------- D ----------
ax = umap_ax(141, 1001, 453, 1279, (-12.2, 13), (-24, 16), 7.5)
for pts, ct in zip(clusters, celltype_of_cluster):
    ax.scatter(*xy(pts), s=dot(3.4), color=celltype_colors[celltype_labels.index(ct)], linewidths=0)
for name, (tx, ty) in celltype_text.items():
    ax.text(tx, ty, name, fontsize=6.3, ha="center", va="center", color="#111111")
text_px(297, 989, "celltype", size=9.2, fontweight="bold")
text_px(299, 1305, "UMAP_1", size=8.5, color="#333333")
text_px(113, 1139, "UMAP_2", size=8, rotation=90, color="#333333")
legend_px(celltype_labels, celltype_colors, 470, 1057, 12.2, 7, 6, 481)

# ---------- E ----------
ax = umap_ax(915, 988, 1232, 1290, (-12.3, 13), (-23.9, 16.2), 10)
for pts, c in zip(clusters, cluster_colors):
    ax.scatter(*xy(pts), s=dot(4.6), color=c, linewidths=0)
for name, (tx, ty) in cluster_text.items():
    ax.text(tx, ty, name, fontsize=7.5, ha="center", va="center", color="#111111")
text_px(1073, 972, "seurat_clusters", size=12.5, fontweight="bold")
text_px(1073, 1319, "UMAP_1", size=11, color="#222222")
text_px(876.5, 1139, "UMAP_2", size=11, rotation=90, color="#222222")
legend_px(cluster_names, cluster_colors, 1255, 1026, 16.83, 10, 8, 1271.6)

# ---------- F ----------
ax_n = umap_ax(95.4, 1379, 319, 1624, (-11.67, 12.9), (-13.4, 4.35), 10, yticks=(-10, -5, 0))
ax_t = umap_ax(326, 1379, 549.4, 1624, (-11.67, 12.9), (-13.4, 4.35), 10, yticks=())
ax_t.spines["left"].set_visible(False)
for a, groups, labels in [(ax_n, f_normal, f_normal_text), (ax_t, f_tumor, f_tumor_text)]:
    for name, pts in groups.items():
        a.scatter(*xy(pts), s=dot(5.6), color=f_colors[f_names.index(name)], linewidths=0)
    for name, (tx, ty) in labels.items():
        a.text(tx, ty, name, fontsize=8, ha="center", va="center", color="#111111")
text_px(322, 1340, "seurat_clusters", size=13, fontweight="bold")
text_px(226, 1369, "normal", size=9.5, fontweight="bold")
text_px(453, 1369, "tumor", size=9.5, fontweight="bold")
text_px(322, 1654, "UMAP_1", size=11, color="#222222")
text_px(56, 1501, "UMAP_2", size=11, rotation=90, color="#222222")
legend_px(f_names, f_colors, 574, 1444.5, 17.43, 10, 8, 590)


# ---------- G ----------
def traj_ax(l, r):
    a = ax_px(l, 1789, r, 2009)
    style_axes(a, [-10, -5, 0, 5], [-2, 0, 2, 4], 7.5, color="#666666")
    a.set_xlim(-11.2, 8.3)
    a.set_ylim(-3.56, 5.1)
    return a


ax_l = traj_ax(78, 321)
ax_r = traj_ax(363, 606)
for a in (ax_l, ax_r):
    for seg in (traj_main, traj_up, traj_down, traj_right):
        a.plot(*xy(seg), color="#111111", lw=1.1, zorder=1)
for pts, st, cl in g_groups:
    ax_l.scatter(*xy(pts), s=dot(6), color=state_colors[st], linewidths=0, zorder=2)
    cols = [g_cluster_colors[k] for k, _ in zip(itertools.cycle(cl), pts)]
    ax_r.scatter(*xy(pts), s=dot(6), color=cols, linewidths=0, zorder=2)
for a in (ax_l, ax_r):
    for nx, ny, nm in traj_nodes:
        a.scatter([nx], [ny], s=dot(13), color="black", zorder=3, linewidths=0)
        a.text(nx, ny, nm, color="white", fontsize=7.5, fontweight="bold", ha="center", va="center", zorder=4)
text_px(199, 2032, "Component 1", size=8.5, color="#222222")
text_px(484, 2032, "Component 1", size=8.5, color="#222222")
text_px(53, 1898, "Component 2", size=8.5, rotation=90, color="#222222")
text_px(339, 1898, "Component 2", size=8.5, rotation=90, color="#222222")
text_px(91.5, 1740.7, "State", size=8.3, ha="left", color="#222222")
text_px(365, 1740.7, "seurat_clusters", size=8.3, ha="left", color="#222222")
for nm, c, px_dot, px_txt in zip("12345", state_colors, [135.7, 173.5, 210.8, 248, 285.3], [154, 191.7, 229, 266, 304]):
    over.scatter([px_dot], [1740.7], s=dot(5), color=c, linewidths=0)
    text_px(px_txt, 1740.7, nm, size=7.5, color="#555555")
g_legend = [("0", 465, 484, 1726), ("2", 503, 521, 1726), ("7", 540, 558.5, 1726), ("10", 577, 599, 1726),
            ("1", 465, 484, 1755.5), ("5", 503, 521, 1755.5), ("8", 540, 558.5, 1755.5), ("13", 577, 599, 1755.5)]
for nm, px_dot, px_txt, py in g_legend:
    over.scatter([px_dot], [py], s=dot(5), color=g_cluster_colors[nm], linewidths=0)
    text_px(px_txt, py, nm, size=7.5, color="#555555")

# ---------- H ----------
heat_spans = [(1352.6, 1384), (1391, 1485.6), (1492, 1603), (1610.5, 1753), (1760, 1950), (1957, 2005)]
for (bar_color, genes, rows), (top, bottom) in zip(heat_groups, heat_spans):
    a = ax_px(784, top, 1277, bottom)
    a.imshow(rows, aspect="auto", cmap=heat_cmap, vmin=-3, vmax=3, interpolation="bilinear")
    a.set_xticks([])
    a.yaxis.tick_right()
    a.set_yticks(range(len(genes)))
    a.set_yticklabels(genes)
    a.tick_params(axis="y", length=0, pad=3.5, labelsize=7.4, labelcolor="#222222")
    for s in a.spines.values():
        s.set_visible(False)
    b = ax_px(769.3, top, 779.2, bottom)
    b.imshow([[0]], aspect="auto", cmap=LinearSegmentedColormap.from_list("one", [bar_color, bar_color]))
    b.axis("off")
for node, y1, y2, c1, c2 in dendro_links:
    over.plot([c1, node, node, c2], [y1, y1, y2, y2], color="#111111", lw=0.9)
for fx, y1, y2 in dendro_fine:
    over.plot([fx, fx], [y1, y2], color="#777777", lw=0.9)
text_px(774, 2026, "Cluster", size=6.3, fontweight="bold", rotation=-90)
hb = ax_px(1342, 1352.6, 1358, 1598)
hb.imshow([[i] for i in range(60, -61, -1)], aspect="auto", cmap=heat_cmap, vmin=-60, vmax=60)
hb.axis("off")
for val, py in zip(["3", "2", "1", "0", "\u22121", "\u22122", "\u22123"], [1356.5, 1396, 1436, 1475, 1515, 1554.5, 1594]):
    text_px(1365, py, val, size=7.4, ha="left", color="#222222")
text_px(1376.6, 1356, "Cluster", size=7.2, ha="left", fontweight="bold")
legend_groups = [("1", "#FF80F0"), ("2", "#FF8A80"), ("3", "#80B4FF"), ("4", "#00D060"), ("5", "#00D8E0"), ("6", "#D4B400")]
for i, (nm, c) in enumerate(legend_groups):
    sw = ax_px(1376.6, 1362.7 + i * 14.1, 1390.7, 1376.8 + i * 14.1)
    sw.imshow([[0]], aspect="auto", cmap=LinearSegmentedColormap.from_list("one", [c, c]))
    sw.axis("off")
    text_px(1393, 1369.7 + i * 14.1, nm, size=7.2, ha="left", color="#222222")

fig.savefig("out.png", dpi=100)
